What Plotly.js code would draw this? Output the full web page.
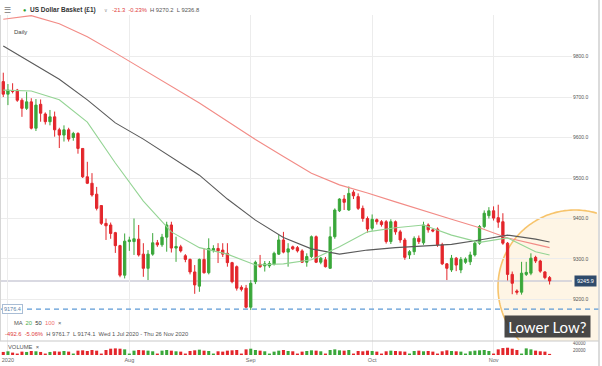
<!DOCTYPE html>
<html><head><meta charset="utf-8">
<script src="https://cdn.plot.ly/plotly-3.0.1.min.js"></script>
<style>html,body{margin:0;padding:0;background:#fff;}#chart{width:602px;height:366px;}</style>
</head><body><div id="chart"></div>
<script>
// ---- data ----
const dates = ["07-01","07-02","07-03","07-05","07-06","07-07","07-08","07-09","07-10","07-12","07-13","07-14","07-15","07-16","07-17","07-19","07-20","07-21","07-22","07-23","07-24","07-26","07-27","07-28","07-29","07-30","07-31",
"08-02","08-03","08-04","08-05","08-06","08-07","08-09","08-10","08-11","08-12","08-13","08-14","08-16","08-17","08-18","08-19","08-20","08-21","08-23","08-24","08-25","08-26","08-27","08-28","08-30","08-31",
"09-01","09-02","09-03","09-04","09-06","09-07","09-08","09-09","09-10","09-11","09-13","09-14","09-15","09-16","09-17","09-18","09-20","09-21","09-22","09-23","09-24","09-25","09-27","09-28","09-29","09-30",
"10-01","10-02","10-04","10-05","10-06","10-07","10-08","10-09","10-11","10-12","10-13","10-14","10-15","10-16","10-18","10-19","10-20","10-21","10-22","10-23","10-25","10-26","10-27","10-28","10-29","10-30",
"11-01","11-02","11-03","11-04","11-05","11-06","11-08","11-09","11-10","11-11","11-12","11-13","11-15"];
const open = [9738,9707,9716,9717,9692,9672,9688,9623,9682,9658,9639,9651,9619,9606,9619,9600,9610,9573,9503,9487,9460,9432,9388,9384,9365,9333,9260,
9343,9343,9349,9312,9277,9312,9340,9335,9354,9384,9327,9330,9308,9299,9268,9233,9299,9266,9321,9326,9322,9314,9291,9281,9230,9228,
9181,9244,9287,9283,9283,9287,9312,9347,9317,9330,9328,9320,9292,9306,9355,9292,9298,9277,9355,9419,9448,9421,9465,9454,9425,9400,
9376,9397,9392,9392,9343,9392,9367,9347,9310,9318,9351,9340,9384,9372,9374,9335,9288,9273,9302,9273,9292,9293,9310,9339,9380,9407,
9419,9402,9392,9339,9262,9221,9218,9262,9265,9304,9295,9268,9254];
const high = [9760,9732,9734,9720,9697,9713,9697,9695,9694,9662,9668,9664,9624,9630,9624,9614,9613,9573,9540,9512,9478,9432,9400,9390,9367,9335,9363,
9355,9400,9384,9339,9322,9364,9347,9362,9392,9392,9355,9335,9312,9301,9285,9301,9326,9351,9334,9339,9339,9339,9293,9284,9235,9236,
9248,9296,9310,9295,9295,9318,9359,9367,9339,9333,9332,9324,9314,9358,9358,9305,9305,9380,9425,9450,9458,9479,9470,9462,9432,9405,
9410,9400,9396,9396,9398,9395,9372,9352,9322,9356,9358,9392,9388,9375,9378,9340,9290,9310,9305,9305,9304,9318,9345,9384,9420,9428,
9430,9434,9413,9342,9269,9225,9293,9293,9314,9308,9298,9270,9258];
const low = [9700,9680,9709,9688,9651,9668,9620,9616,9639,9632,9630,9602,9574,9590,9590,9592,9560,9500,9485,9454,9420,9384,9347,9350,9315,9255,9252,
9320,9310,9306,9256,9248,9308,9330,9330,9318,9316,9293,9316,9292,9262,9214,9219,9264,9262,9316,9290,9305,9281,9240,9222,9220,9178,
9174.1,9238,9278,9269,9278,9284,9310,9314,9281,9322,9316,9290,9281,9302,9290,9287,9279,9276,9350,9416,9421,9419,9448,9421,9392,9365,
9370,9385,9380,9338,9337,9360,9340,9298,9300,9310,9337,9335,9365,9366,9330,9285,9248,9268,9270,9265,9288,9285,9306,9335,9376,9400,
9395,9377,9335,9247,9213,9212,9212,9258,9260,9290,9266,9250,9237];
const close = [9707,9717,9714,9692,9672,9688,9623,9680,9660,9639,9651,9619,9606,9619,9596,9610,9573,9503,9487,9458,9425,9388,9382,9363,9333,9260,9344,
9347,9350,9310,9277,9312,9340,9335,9354,9384,9327,9331,9320,9299,9268,9236,9299,9266,9326,9326,9320,9312,9291,9244,9228,9225,9181,
9240,9292,9281,9288,9289,9314,9347,9317,9325,9325,9320,9292,9306,9355,9292,9302,9281,9355,9421,9448,9440,9462,9456,9425,9400,9374,
9398,9392,9385,9343,9392,9367,9347,9304,9318,9351,9343,9384,9372,9369,9335,9288,9277,9302,9285,9299,9300,9310,9339,9380,9413,9419,
9401,9391,9339,9262,9240,9218,9265,9267,9302,9295,9270,9254,9245.9];
const volume = [14000,16000,12000,9000,15000,14000,17000,16000,14000,
9000,14000,16000,15000,17000,15000,9000,18000,19000,
17000,20000,18000,9000,20000,24000,25000,24000,22000,
9000,18000,20000,19000,18000,16000,9000,18000,20000,
18000,16000,15000,9000,17000,19000,21000,18000,17000,
9000,16000,15000,18000,19000,20000,9000,22000,24000,
20000,18000,16000,9000,15000,18000,20000,17000,16000,
9000,15000,17000,19000,18000,16000,9000,20000,22000,
19000,18000,20000,9000,17000,16000,18000,17000,15000,
9000,16000,18000,17000,16000,15000,9000,17000,18000,
16000,17000,15000,9000,16000,19000,17000,16000,15000,
9000,16000,18000,19000,20000,17000,9000,22000,26000,
27000,24000,20000,9000,25000,22000,18000,16000,15000,
8000];
// moving averages at sample dates
const maDates = ["07-01","07-08","07-15","07-22","07-29","08-05","08-12","08-19","08-26","09-02","09-09","09-16","09-23","09-30","10-07","10-14","10-21","10-28","11-04","11-11","11-15"];
const ma20  = [9717,9715,9693,9638,9537,9443,9367,9328,9312,9285,9288,9298,9330,9367,9377,9384,9359,9341,9352,9318,9310];
const ma50  = [9826,9786,9744,9693,9636,9596,9551,9507,9448,9396,9353,9325,9312,9322,9328,9332,9336,9347,9359,9349,9342];
const ma100 = [9892,9901,9881,9849,9809,9767,9725,9685,9640,9595,9553,9512,9483,9463,9441,9419,9398,9377,9352,9336,9328];
const monthTicks = ["07-02","08-02","09-01","10-01","11-01"];
const monthLabels = ["2020","Aug","Sep","Oct","Nov"];
const priceTicks = [9200,9300,9400,9500,9600,9700,9800];
const volTicks = [20000,40000];
const volLabels = ["20000","40000"];
const lastPrice = 9245.9;
const markedLow = 9176.4;

// ---- styling / geometry ----
const W = 602, H = 366, ML = 0, MR = 30, MT = 15, MB = 11;
const PW = W - ML - MR, PH = H - MT - MB;
const px = x => (x - ML) / PW;
const py = y => (H - MB - y) / PH;
const RED = '#e3262b', GREEN = '#3aa73a';
const paneSplit = py(341);

const traces = [
  {type:'candlestick', x:dates, open:open, high:high, low:low, close:close, xaxis:'x', yaxis:'y',
   increasing:{line:{color:GREEN,width:1}, fillcolor:GREEN},
   decreasing:{line:{color:RED,width:1}, fillcolor:RED}, whiskerwidth:0, hoverinfo:'skip'},
  {type:'scatter', mode:'lines', x:maDates, y:ma100, line:{color:'#f28b86',width:1.1}, xaxis:'x', yaxis:'y', hoverinfo:'skip'},
  {type:'scatter', mode:'lines', x:maDates, y:ma50, line:{color:'#5a5a5a',width:1.1}, xaxis:'x', yaxis:'y', hoverinfo:'skip'},
  {type:'scatter', mode:'lines', x:maDates, y:ma20, line:{color:'#94d494',width:1.1}, xaxis:'x', yaxis:'y', hoverinfo:'skip'},
  {type:'bar', x:dates, y:volume, xaxis:'x', yaxis:'y2', hoverinfo:'skip',
   marker:{color: close.map((c,i)=> c >= open[i] ? GREEN : RED)}}
];

// circle highlight, clipped to the price pane
const cx = 575, cy = 287, r = 77, clipX = 598, clipY = 341;
let fillPts = [], arcPts = [];
for (let i = 0; i <= 240; i++) {
  const t = Math.PI/4 + i * 2*Math.PI/240;
  const X = cx + r*Math.cos(t), Y = cy + r*Math.sin(t);
  fillPts.push([Math.min(X, clipX), Math.min(Y, clipY)]);
  if (X <= clipX && Y <= clipY) arcPts.push([X, Y]);
}
const toPath = (pts, close) => pts.map((p,i)=> (i?'L':'M') + px(p[0]).toFixed(5) + ',' + py(p[1]).toFixed(5)).join(' ') + (close?' Z':'');

const txt = (x, y, text, size, color, opts) => Object.assign({
  xref:'paper', yref:'paper', x:px(x), y:py(y), text:text, showarrow:false,
  xanchor:'left', yanchor:'middle', font:{size:size, color:color, family:'Liberation Sans, Arial, sans-serif'}
}, opts||{});

const layout = {
  width:W, height:H, margin:{l:ML, r:MR, t:MT, b:MB},
  paper_bgcolor:'#ffffff', plot_bgcolor:'rgba(0,0,0,0)',
  showlegend:false, hovermode:false, boxgap:0.3, bargap:0.35,
  font:{family:'Liberation Sans, Arial, sans-serif', color:'#555'},
  xaxis:{type:'category', range:[-0.7, 121.8], anchor:'y2', tickvals:monthTicks, ticktext:monthLabels,
         showgrid:true, gridcolor:'#ececec', gridwidth:1, ticks:'', showline:false, zeroline:false,
         tickfont:{size:5.5, color:'#666'}, rangeslider:{visible:false}},
  yaxis:{domain:[paneSplit, 1], range:[9097.5, 9902.5], side:'right', tickvals:priceTicks, tickformat:'.1f',
         showgrid:true, gridcolor:'#ececec', zeroline:false, ticks:'', tickfont:{size:5, color:'#555'}},
  yaxis2:{domain:[0, paneSplit], range:[4600, 47700], side:'right', tickvals:volTicks, ticktext:volLabels, showgrid:false,
          zeroline:false, ticks:'', tickfont:{size:4.5, color:'#555'}},
  shapes:[
    {type:'path', xref:'paper', yref:'paper', path:toPath(fillPts,true), fillcolor:'rgba(252,196,100,0.17)', line:{width:0}, layer:'below'},
    {type:'path', xref:'paper', yref:'paper', path:toPath(arcPts,false), line:{color:'#f7c46c', width:1.6}, layer:'below'},
    {type:'line', xref:'paper', yref:'y', x0:0, x1:1, y0:lastPrice, y1:lastPrice, line:{color:'#cdcdd9', width:1.5}, layer:'below'},
    {type:'line', xref:'paper', yref:'y', x0:0, x1:px(599), y0:markedLow, y1:markedLow, line:{color:'#5d9ad6', width:1.3, dash:'5px,4px'}},
    {type:'line', xref:'paper', yref:'paper', x0:0, x1:px(599), y0:paneSplit, y1:paneSplit, line:{color:'#c9c9c9', width:1}},
    {type:'line', xref:'paper', yref:'paper', x0:px(599), x1:px(599), y0:py(366), y1:py(0), line:{color:'#cfcfcf', width:1.5}},
    {type:'line', xref:'paper', yref:'paper', x0:px(0.5), x1:px(0.5), y0:py(341), y1:py(15), line:{color:'#d6d6d6', width:1}}
  ],
  annotations:[
    txt(2, 10, '☰', 8, '#777'),
    txt(20.5, 10, '●', 5.5, '#2ca02c'),
    txt(28, 10, '<b>US Dollar Basket (£1)</b>', 6.5, '#333'),
    txt(102, 10, '∨', 5, '#999'),
    txt(110, 10, '<span style="color:#e03a3a">-21.3  -0.23%</span>  H 9270.2  L 9236.8', 5.8, '#555'),
    txt(12, 32, 'Daily', 6, '#444'),
    txt(12, 323, 'MA  <span style="color:#4cae4c">20</span>  <span style="color:#333">50</span>  <span style="color:#ef6f6f">100</span>  ×', 5.8, '#555'),
    txt(3, 334, '<span style="color:#e03a3a">-492.6  -5.06%</span>  H 9761.7  L 9174.1  Wed 1 Jul 2020 - Thu 26 Nov 2020', 5.8, '#555'),
    txt(6, 347, 'VOLUME  ×', 5.8, '#555'),
    {xref:'paper', yref:'y', x:px(2), y:markedLow, text:'9176.4', showarrow:false, xanchor:'left', yanchor:'middle',
     font:{size:5.5, color:'#5a7fa8'}, bgcolor:'#ffffff', bordercolor:'#a9bdd5', borderwidth:1, borderpad:1},
    {xref:'paper', yref:'y', x:px(574), y:lastPrice, text:'9245.9', showarrow:false, xanchor:'left', yanchor:'middle',
     font:{size:5.5, color:'#ffffff'}, bgcolor:'#2f4b6c', borderpad:2},
    {xref:'paper', yref:'paper', x:px(547.5), y:py(326), text:'Lower Low?', showarrow:false, xanchor:'center', yanchor:'middle',
     font:{size:15, color:'#ffffff', family:'Lato, sans-serif'}, bgcolor:'rgba(52,52,52,0.9)', width:81, height:17, borderpad:2}
  ]
};

Plotly.newPlot('chart', traces, layout, {displayModeBar:false, staticPlot:true});
</script></body></html>
